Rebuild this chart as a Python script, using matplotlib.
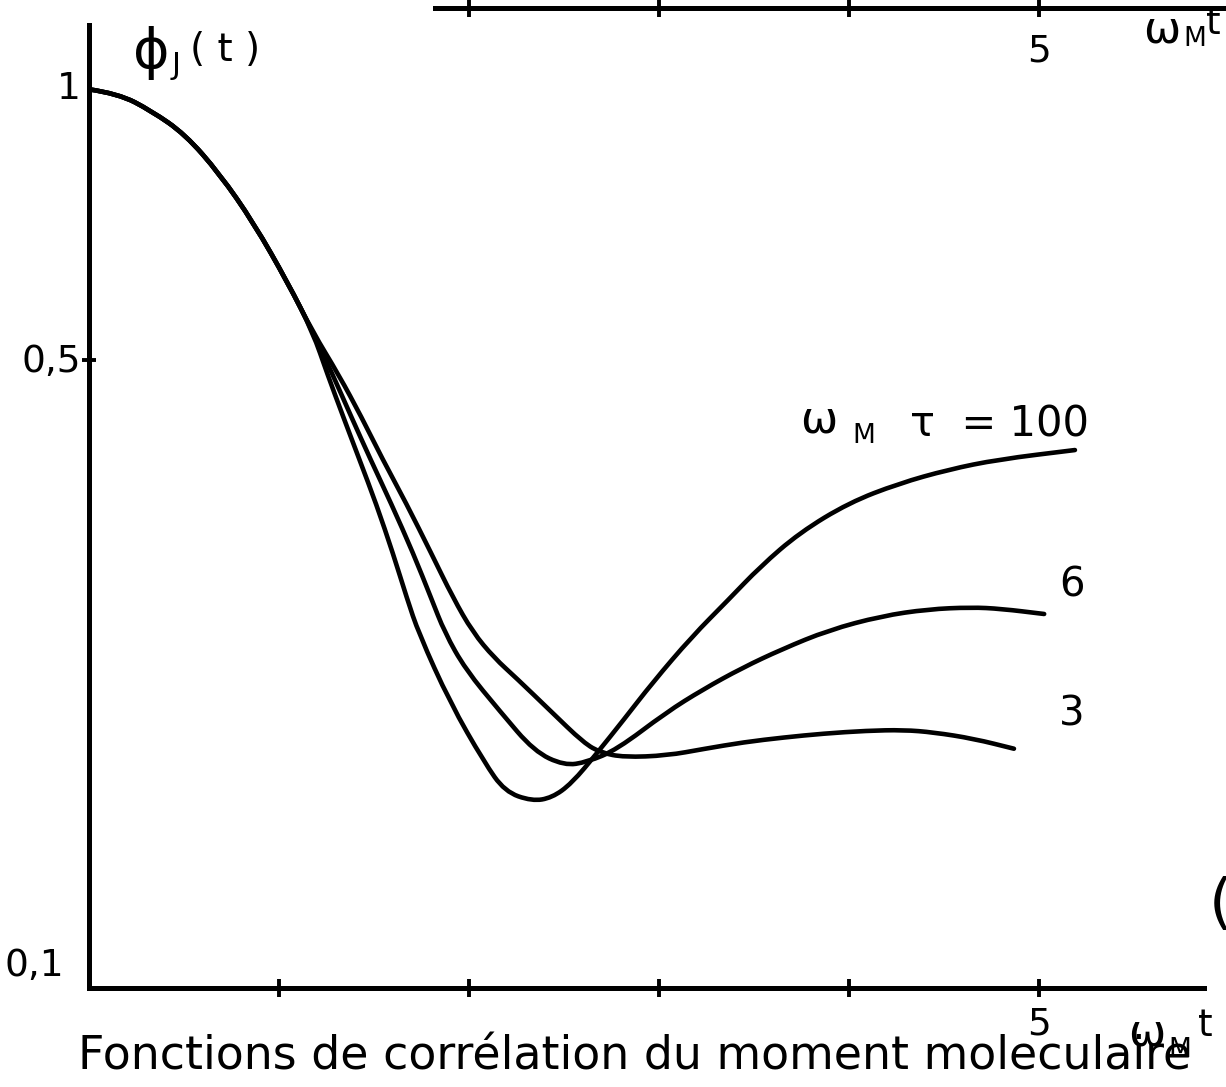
import numpy as np
import matplotlib.pyplot as plt
from matplotlib.path import Path
from matplotlib.patches import PathPatch
from matplotlib.ticker import NullLocator

plt.rcParams['font.family'] = ['DejaVu Sans']

# début commun des trois courbes
t_common = [0.0, 0.155, 0.33, 0.507, 0.689, 0.868, 1.048, 1.179]
phi_common = [1.0, 0.989, 0.946, 0.891, 0.805, 0.710, 0.609, 0.537]

# omega_M tau = 100
t_100 = [1.257, 1.341, 1.424, 1.513, 1.602, 1.675, 1.737, 1.902, 2.082, 2.190,
         2.333, 2.438, 2.542, 2.676, 2.814, 2.968, 3.174, 3.365, 3.535, 3.742,
         4.002, 4.263, 4.525, 4.787, 5.191]
phi_100 = [0.4813, 0.4312, 0.3876, 0.3456, 0.3042, 0.2713, 0.2481, 0.2077, 0.1783, 0.1654,
           0.1614, 0.1628, 0.1689, 0.1826, 0.1986, 0.2187, 0.2459, 0.2701, 0.2944, 0.3211,
           0.3467, 0.3641, 0.3774, 0.3873, 0.3968]

# omega_M tau = 6
t_6 = [1.284, 1.383, 1.482, 1.592, 1.708, 1.802, 1.874, 1.983, 2.166, 2.344,
       2.503, 2.624, 2.780, 3.040, 3.232, 3.440, 3.649, 3.894, 4.172, 4.418,
       4.645, 4.802, 5.029]
phi_6 = [0.4813, 0.4315, 0.3878, 0.3459, 0.3045, 0.2716, 0.2485, 0.2262, 0.2030, 0.1834,
         0.1768, 0.1784, 0.1842, 0.2026, 0.2148, 0.2271, 0.2382, 0.2501, 0.2593, 0.2639,
         0.2652, 0.2642, 0.2607]

# omega_M tau = 3
t_3 = [1.315, 1.436, 1.545, 1.671, 1.802, 1.917, 2.021, 2.134, 2.252, 2.429,
       2.606, 2.697, 2.818, 3.044, 3.238, 3.448, 3.658, 3.868, 4.094, 4.289,
       4.447, 4.658, 4.870]
phi_3 = [0.4814, 0.4316, 0.3881, 0.3462, 0.3048, 0.2719, 0.2489, 0.2330, 0.2211, 0.2035,
         0.1873, 0.1827, 0.1806, 0.1814, 0.1845, 0.1877, 0.1900, 0.1919, 0.1933, 0.1937,
         0.1925, 0.1894, 0.1846]

W, H = 1226, 1087
fig = plt.figure(figsize=(W / 100, H / 100), dpi=100)


def at(px, py):
    # position en pixels -> fraction de la figure
    return px / W, 1 - py / H


def courbe_lisse(t, phi):
    # trace lissé (bezier quadratique) passant par les milieux des points
    x = np.asarray(t, float)
    y = np.asarray(phi, float)
    verts = [(x[0], y[0])]
    codes = [Path.MOVETO]
    for i in range(1, len(x) - 1):
        verts += [(x[i], y[i]), ((x[i] + x[i + 1]) / 2, np.sqrt(y[i] * y[i + 1]))]
        codes += [Path.CURVE3, Path.CURVE3]
    verts.append((x[-1], y[-1]))
    codes.append(Path.LINETO)
    return Path(verts, codes)


ax = fig.add_axes([0.0724, 0.0911, 0.9096, 0.8862])
ax.set_yscale('log')
ax.set_xlim(0, 5.87)
ax.set_ylim(0.1, 1.18)

for t, phi in [(t_100, phi_100), (t_6, phi_6), (t_3, phi_3)]:
    p = courbe_lisse(np.r_[t_common, t], np.r_[phi_common, phi])
    ax.add_patch(PathPatch(p, fill=False, edgecolor='black', lw=3.3,
                           capstyle='round', joinstyle='round'))

ax.spines[['top', 'right']].set_visible(False)
for s in ['left', 'bottom']:
    ax.spines[s].set_linewidth(3.6)

ax.set_xticks([1, 2, 3, 4, 5], ['', '', '', '', '5'])
ax.tick_params(axis='x', direction='inout', length=13, width=2.8, pad=7, labelsize=27)
ax.set_yticks([0.5], [''])
ax.yaxis.set_minor_locator(NullLocator())
ax.tick_params(axis='y', direction='inout', length=10, width=2.8)

for val, lab, dx, dy in [(1, '1', -20, 0), (0.5, '0,5', -38, -2.5), (0.1, '0,1', -54, 22)]:
    ax.annotate(lab, xy=(0, val), xycoords=('axes fraction', 'data'), xytext=(dx, dy),
                textcoords='offset pixels', ha='center', va='center', fontsize=27)

# étiquettes des courbes
ax.text(3.841, 0.4283, 'ω', fontsize=32, ha='center', va='center')
ax.text(4.079, 0.4110, 'M', fontsize=19, ha='center', va='center')
ax.text(4.325, 0.4110, 'τ  = 100', fontsize=30, ha='left', va='baseline')
ax.text(5.174, 0.2806, '6', fontsize=29, ha='center', va='center')
ax.text(5.176, 0.2015, '3', fontsize=29, ha='center', va='center')

# titre de l'axe y
fig.text(*at(151, 53), 'ϕ', fontsize=40, ha='center', va='center')
fig.text(*at(176, 66), 'J', fontsize=22, ha='center', va='center')
fig.text(*at(225, 50), '( t )', fontsize=28, ha='center', va='center')

# variable de l'axe x
fig.text(*at(1147, 1033), 'ω', fontsize=32, ha='center', va='center')
fig.text(*at(1180, 1050), 'M', fontsize=19, ha='center', va='center')
fig.text(*at(1205, 1026), 't', fontsize=27, ha='center', va='center')

# axe du graphique précédent, en haut de la page
ax_top = fig.add_axes([0.0724, 1 - 8 / H, 0.9276, 0.002])
ax_top.set_xlim(0, 5.982)
ax_top.patch.set_visible(False)
for s in ['top', 'left', 'right']:
    ax_top.spines[s].set_visible(False)
ax_top.spines['bottom'].set_linewidth(3.6)
ax_top.spines['bottom'].set_bounds(1.82, 5.982)
ax_top.set_yticks([])
ax_top.set_xticks([2, 3, 4, 5], ['', '', '', '5'])
ax_top.tick_params(axis='x', direction='inout', length=13, width=2.8, pad=12, labelsize=27)
fig.text(*at(1162, 30), 'ω', fontsize=32, ha='center', va='center')
fig.text(*at(1195, 39), 'M', fontsize=19, ha='center', va='center')
fig.text(*at(1213, 24), 't', fontsize=27, ha='center', va='center')

fig.text(*at(635, 1057), 'Fonctions de corrélation du moment moleculaire',
         fontsize=33, ha='center', va='center')
fig.text(*at(1221, 906), '(', fontsize=44, ha='center', va='center')

fig.savefig('out.png', dpi=100)
